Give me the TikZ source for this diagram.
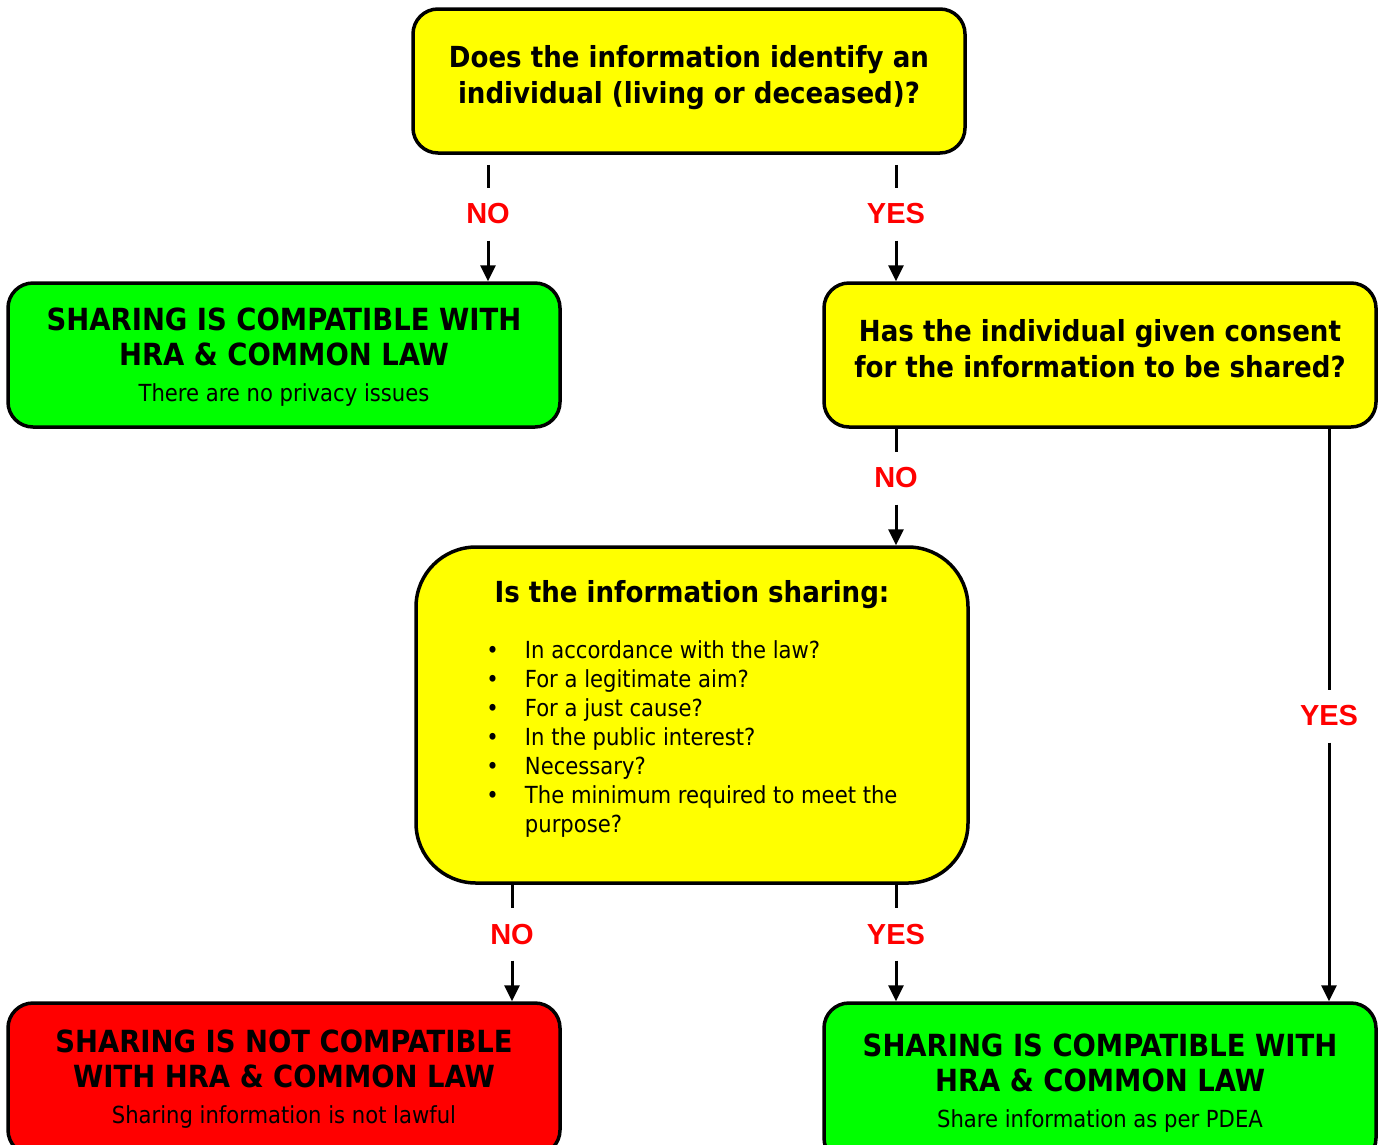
\documentclass[tikz,border=0pt]{standalone}
\usepackage{fontspec}
\setmainfont{DejaVu Sans Condensed}
\newfontfamily\lblfont{Liberation Sans}
\usetikzlibrary{arrows.meta}
\definecolor{askyellow}{RGB}{255,255,0}
\definecolor{okgreen}{RGB}{0,255,0}
\definecolor{nored}{RGB}{255,0,0}
\newcommand\subline{\mdseries\fontsize{23.5}{29}\selectfont}
\begin{document}
\begin{tikzpicture}[x=1pt, y=-1pt, line width=3pt,
  box/.style = {draw, line width=3.5pt, rounded corners=25pt, minimum width=552pt, minimum height=144pt, align=center, inner sep=0pt},
  ask/.style = {box, fill=askyellow, font=\fontsize{29}{36}\selectfont\bfseries, text depth=13pt},
  okay/.style = {box, fill=okgreen, font=\fontsize{30.5}{35}\selectfont\bfseries, text depth=0pt},
  nogo/.style = {box, fill=nored, font=\fontsize{30.5}{35}\selectfont\bfseries},
  lbl/.style = {text=nored, font=\fontsize{29}{29}\lblfont\bfseries, minimum height=50pt, inner sep=0pt},
  arr/.style = {-{Triangle[length=16pt, width=15pt]}}]
  \useasboundingbox (0,0) rectangle (1386,1144);
  % boxes
  \node[ask] (q1) at (689,81) {Does the information identify an\\individual (living or deceased)?};
  \node[okay] (ok1) at (284,355) {SHARING IS COMPATIBLE WITH\\HRA \& COMMON LAW\\[1pt]\subline There are no privacy issues};
  \node[ask] (q2) at (1100,355) {Has the individual given consent\\for the information to be shared?};
  \node[ask, minimum height=336pt, rounded corners=60pt, text depth=17pt] (q3) at (692,715) {%
    Is the information sharing:\\[28pt]
    \subline
    \begin{tabular}[b]{@{}l@{\hspace{26pt}}l@{}}
      \textbullet & In accordance with the law?\\
      \textbullet & For a legitimate aim?\\
      \textbullet & For a just cause?\\
      \textbullet & In the public interest?\\
      \textbullet & Necessary?\\
      \textbullet & The minimum required to meet the\\
                  & purpose?
    \end{tabular}};
  \node[nogo, minimum height=152pt] (no3) at (284,1079) {SHARING IS NOT COMPATIBLE\\WITH HRA \& COMMON LAW\\[1pt]\subline Sharing information is not lawful};
  \node[okay, minimum height=160pt, text depth=5pt] (ok3) at (1100,1083) {SHARING IS COMPATIBLE WITH\\HRA \& COMMON LAW\\[1pt]\subline Share information as per PDEA};
  % labels
  \node[lbl] (n1) at (488,214) {NO};
  \node[lbl] (y1) at (896,214) {YES};
  \node[lbl] (n2) at (896,478) {NO};
  \node[lbl] (y2) at (1329,716) {YES};
  \node[lbl] (n3) at (512,934) {NO};
  \node[lbl] (y3) at (896,934) {YES};
  % connectors
  \draw[shorten <=10pt] (q1.south -| n1) -- (n1);
  \draw[arr] (n1) -- (ok1.north -| n1);
  \draw[shorten <=10pt] (q1.south -| y1) -- (y1);
  \draw[arr] (y1) -- (q2.north -| y1);
  \draw (q2.south -| n2) -- (n2);
  \draw[arr] (n2) -- (q3.north -| n2);
  \draw (q2.south -| y2) -- (y2);
  \draw[arr] (y2) -- (ok3.north -| y2);
  \draw (q3.south -| n3) -- (n3);
  \draw[arr] (n3) -- (no3.north -| n3);
  \draw (q3.south -| y3) -- (y3);
  \draw[arr] (y3) -- (ok3.north -| y3);
\end{tikzpicture}
\end{document}
